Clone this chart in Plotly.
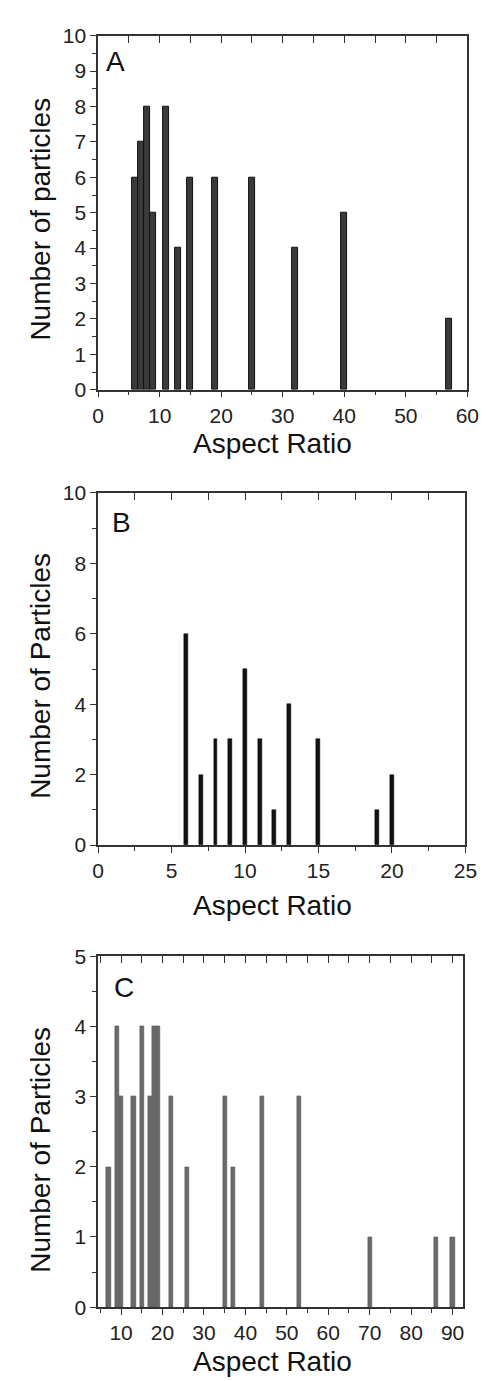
import plotly.graph_objects as go

# Panel A
a_x = [6, 7, 8, 9, 11, 13, 15, 19, 25, 32, 40, 57]
a_y = [6, 7, 8, 5, 8, 4, 6, 6, 6, 4, 5, 2]
# Panel B
b_x = [6, 7, 8, 9, 10, 11, 12, 13, 15, 19, 20]
b_y = [6, 2, 3, 3, 5, 3, 1, 4, 3, 1, 2]
# Panel C
c_x = [7, 9, 10, 13, 15, 17, 18, 19, 22, 26, 35, 37, 44, 53, 70, 86, 90]
c_y = [2, 4, 3, 3, 4, 3, 4, 4, 3, 2, 3, 2, 3, 3, 1, 1, 1]

W, H = 488, 1381
FONT = "Liberation Sans, Arial, sans-serif"

def px(v):
    return v / W

def py(v):
    return 1 - v / H

fig = go.Figure()
fig.add_trace(go.Bar(x=a_x, y=a_y, width=1.0, marker=dict(color="#3a3a3a", line=dict(color="#111", width=1)),
                     xaxis="x", yaxis="y", showlegend=False))
fig.add_trace(go.Bar(x=b_x, y=b_y, width=0.26, marker=dict(color="#111", line=dict(color="#111", width=0.5)),
                     xaxis="x2", yaxis="y2", showlegend=False))
fig.add_trace(go.Bar(x=c_x, y=c_y, width=1.0, marker=dict(color="#6a6a6a", line=dict(color="#555", width=0.5)),
                     xaxis="x3", yaxis="y3", showlegend=False))
for xa, ya in [("x4", "y"), ("x5", "y2"), ("x6", "y3")]:
    fig.add_trace(go.Scatter(x=[None], y=[None], xaxis=xa, yaxis=ya, showlegend=False, hoverinfo="skip"))

tickfont = dict(family=FONT, size=21, color="#222")
line = dict(showline=True, linecolor="#333", linewidth=1.5, mirror=True, showgrid=False, zeroline=False)

panels = [
    # (xname, yname, xdom, ydom, xrange, xdtick, xminor, yrange, ydtick, yminor, topdtick)
    ("xaxis", "yaxis", (87.3, 470.7), (16, 376), [0, 60], 10, 5, [0, 10], 1, 0.5, 5, "y", "x"),
    ("xaxis2", "yaxis2", (87.3, 468.7), (481, 839), [0, 25], 5, 2.5, [0, 10], 2, 1, 2.5, "y2", "x2"),
    ("xaxis3", "yaxis3", (87.3, 465.7), (952, 1309), [4.45, 92.4], 10, 5, [0, 5], 1, 0.5, 5, "y3", "x3"),
]
tops = ["xaxis4", "xaxis5", "xaxis6"]
layout = {}
for (xn, yn, xd, yd, xr, xdt, xmn, yr, ydt, ymn, tdt, yref, xref), tn in zip(panels, tops):
    layout[xn] = dict(domain=[px(xd[0]), px(xd[1])], range=xr, anchor=yref, tickmode="linear", tick0=0, dtick=xdt,
                      ticks="outside", ticklen=6, tickwidth=1.3, tickcolor="#333", tickfont=tickfont,
                      minor=dict(ticks="outside", ticklen=4, dtick=xmn, tick0=0, tickcolor="#333", tickwidth=1.2),
                      **line)
    layout[yn] = dict(domain=[py(yd[1]), py(yd[0])], range=yr, anchor=xref, tickmode="linear", tick0=0, dtick=ydt,
                      ticks="outside", ticklen=6, tickwidth=1.3, tickcolor="#333", tickfont=tickfont,
                      minor=dict(ticks="outside", ticklen=4, dtick=ymn, tick0=0, tickcolor="#333", tickwidth=1.2),
                      **line)
    layout[tn] = dict(overlaying=xref, side="top", anchor=yref, range=xr, tickmode="linear", tick0=0, dtick=tdt,
                      ticks="inside", ticklen=7, tickwidth=1.3, tickcolor="#333", showticklabels=False,
                      showline=False, showgrid=False, zeroline=False)

annotations = []
title_font = dict(family=FONT, size=28, color="#111")
# x titles
for xc, yc in [(268, 431), (268, 901), (268, 1364)]:
    annotations.append(dict(text="Aspect Ratio", x=px(xc), y=py(yc), xref="paper", yref="paper",
                            showarrow=False, font=title_font, xanchor="center", yanchor="middle"))
# y titles
for txt, yc in [("Number of particles", 202), ("Number of Particles", 667), ("Number of Particles", 1149)]:
    annotations.append(dict(text=txt, x=px(28), y=py(yc), xref="paper", yref="paper", textangle=-90,
                            showarrow=False, font=title_font, xanchor="center", yanchor="middle"))
# panel letters
for txt, xc, yc in [("A", 105, 42), ("B", 112, 511), ("C", 114, 984)]:
    annotations.append(dict(text=txt, x=px(xc), y=py(yc), xref="paper", yref="paper",
                            showarrow=False, font=title_font, xanchor="center", yanchor="middle"))

fig.update_layout(width=W, height=H, margin=dict(l=0, r=0, t=0, b=0), paper_bgcolor="white",
                  plot_bgcolor="white", bargap=0, annotations=annotations, **layout)
fig.write_html("out.html")
